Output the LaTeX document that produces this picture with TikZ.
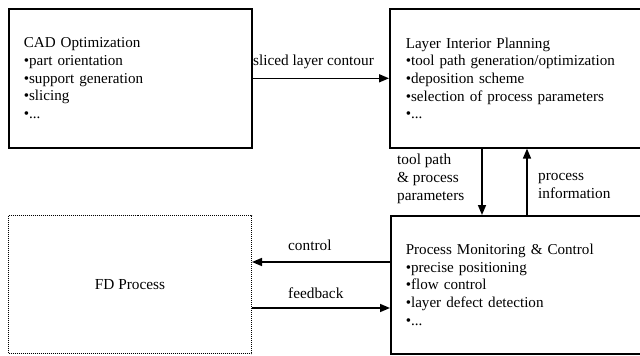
\documentclass[tikz,border=0pt]{standalone}
\usepackage{fontspec}
\setmainfont{Liberation Serif}
\usetikzlibrary{arrows.meta}
\tikzset{
  box/.style={draw, line width=1.6pt, anchor=north west, align=left,
    inner xsep=15pt, inner ysep=0pt, minimum height=139pt,
    font=\fontsize{15.1}{17.7}\selectfont},
  fdbox/.style={draw, line width=1pt, dash pattern=on 1pt off 1pt,
    anchor=north west, minimum width=243pt, minimum height=138pt,
    inner sep=0pt, font=\fontsize{15.3}{17.7}\selectfont},
  lbl/.style={inner sep=0pt, align=left, anchor=base west,
    font=\fontsize{15.3}{17.6}\selectfont},
  arr/.style={line width=1.6pt, -{Triangle[length=10pt,width=8pt]}},
}
\begin{document}
\begin{tikzpicture}[x=1pt,y=-1pt]
\useasboundingbox (0,0) rectangle (640,356);
\node[box, text width=213pt] (cad) at (8,8)
  {CAD Optimization\\•part orientation\\•support generation\\•slicing\\•...};
\node[box, text width=221pt, inner xsep=16pt] (lip) at (389,8)
  {Layer Interior Planning\\•tool path generation/optimization\\•deposition scheme\\•selection of process parameters\\•...};
\node[box, text width=221pt, minimum height=138pt] (pmc) at (390,215)
  {Process Monitoring \& Control\\•precise positioning\\•flow control\\•layer defect detection\\•...};
\node[fdbox] (fd) at (8,215) {FD Process};
\coordinate (dn) at (482,0);
\coordinate (up) at (527,0);
\coordinate (cy) at (0,262);
\coordinate (fy) at (0,308);
\draw[arr] (cad.east) -- (cad.east -| lip.west);
\draw[arr] (lip.south -| dn) -- (pmc.north -| dn);
\draw[arr] (pmc.north -| up) -- (lip.south -| up);
\draw[arr] (pmc.west |- cy) -- (fd.east |- cy);
\draw[arr] (fd.east |- fy) -- (pmc.west |- fy);
\node[lbl] (l1) at (253,65) {sliced layer contour};
\node[lbl] (l2) at (397,200) {tool path\\\& process\\parameters};
\node[lbl] (l3) at (538,198) {process\\information};
\node[lbl] (l4) at (288,250) {control};
\node[lbl] (l5) at (288,298) {feedback};
\end{tikzpicture}
\end{document}
